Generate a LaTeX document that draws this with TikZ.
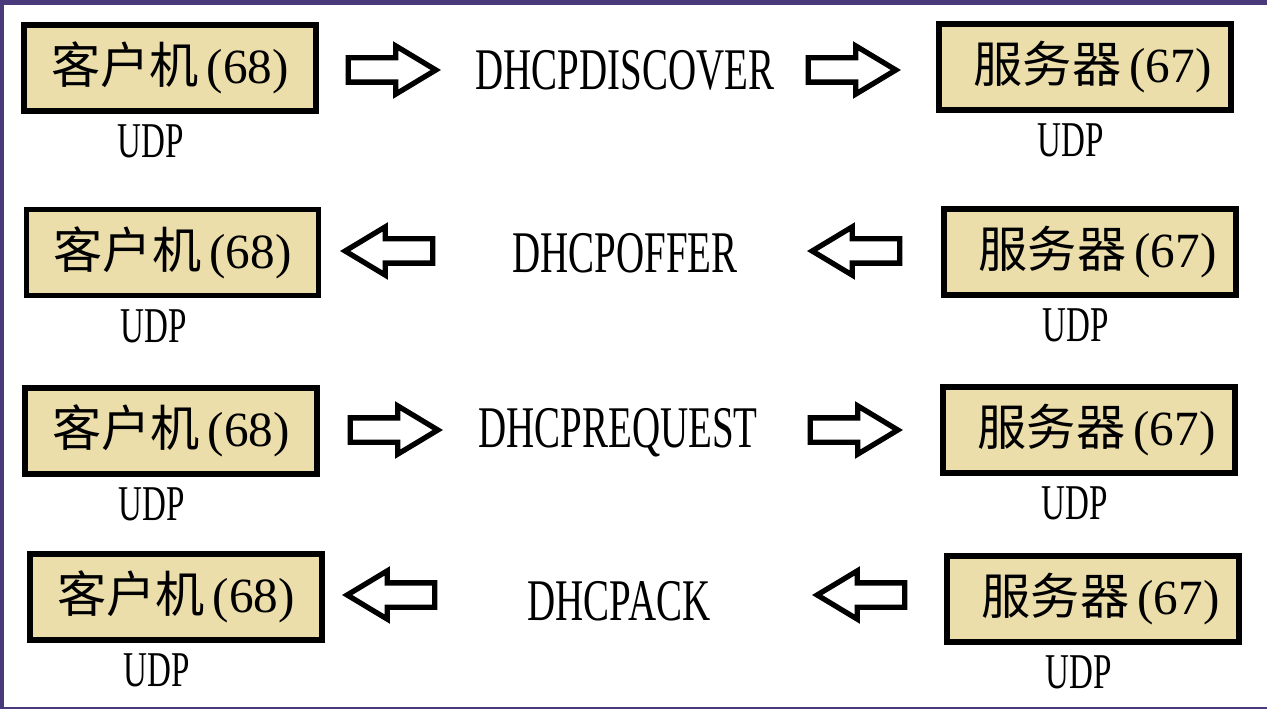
\documentclass[tikz,border=0pt]{standalone}
\usepackage{fontspec}
\setmainfont{Liberation Serif}
\newfontfamily\cjk{Noto Sans CJK SC}
\newfontfamily\narrowfont[FakeStretch=0.66]{Liberation Serif}
\usepackage{xcolor}
\usetikzlibrary{shapes.arrows,positioning}

\definecolor{boxfill}{HTML}{EBDEAA}
\definecolor{framecol}{HTML}{4A3A7C}
\newcommand{\hostfont}{\fontsize{28}{32}\selectfont}
\newcommand{\udpfont}{\narrowfont\fontsize{28.5}{32}\selectfont}
\newcommand{\msgfont}{\narrowfont\fontsize{33.6}{38}\selectfont}

\begin{document}
\begin{tikzpicture}[
   host/.style={draw,line width=3pt,fill=boxfill,minimum width=5.84cm,minimum height=1.72cm,inner sep=0pt,font=\hostfont},
   udp/.style={font=\udpfont,inner sep=0pt},
   msg/.style={font=\msgfont,inner sep=0pt,anchor=base},
   fwd/.style={single arrow,draw,line width=3pt,line join=miter,single arrow tip angle=62,
               single arrow head extend=0.24cm,minimum height=1.75cm,inner sep=0.19cm},
   back/.style={fwd,shape border rotate=180}]
  \useasboundingbox (0,0) rectangle (25.34,-14.18);
  \fill[white] (0,0) rectangle (25.34,-14.18);
  \fill[framecol] (0,0) rectangle (25.34,-0.1);
  \fill[framecol] (0,0) rectangle (0.08,-14.18);
  \fill[framecol] (0,-14.14) rectangle (25.34,-14.18);
  % clients and servers
  \node[host] (c1) at (3.40,-1.36) {{\cjk 客户机}\,(68)};
  \node[host] (s1) at (21.70,-1.34) {\hspace{0.3cm}{\cjk 服务器}\,(67)};
  \node[host] (c2) at (3.45,-5.05) {{\cjk 客户机}\,(68)};
  \node[host] (s2) at (21.80,-5.04) {\hspace{0.3cm}{\cjk 服务器}\,(67)};
  \node[host] (c3) at (3.42,-8.62) {{\cjk 客户机}\,(68)};
  \node[host] (s3) at (21.78,-8.60) {\hspace{0.3cm}{\cjk 服务器}\,(67)};
  \node[host] (c4) at (3.52,-11.94) {{\cjk 客户机}\,(68)};
  \node[host] (s4) at (21.86,-11.98) {\hspace{0.3cm}{\cjk 服务器}\,(67)};
  % UDP
  \node[udp,below=0.22cm of c1,xshift=-0.38cm] (uc1) {UDP};
  \node[udp,below=0.22cm of s1,xshift=-0.28cm] (us1) {UDP};
  \node[udp,below=0.22cm of c2,xshift=-0.38cm] (uc2) {UDP};
  \node[udp,below=0.22cm of s2,xshift=-0.28cm] (us2) {UDP};
  \node[udp,below=0.22cm of c3,xshift=-0.38cm] (uc3) {UDP};
  \node[udp,below=0.22cm of s3,xshift=-0.28cm] (us3) {UDP};
  \node[udp,below=0.22cm of c4,xshift=-0.38cm] (uc4) {UDP};
  \node[udp,below=0.22cm of s4,xshift=-0.28cm] (us4) {UDP};
  % messages
  \node[msg] (m1) at (12.50,-1.80) {DHCPDISCOVER};
  \node[msg] (m2) at (12.50,-5.44) {DHCPOFFER};
  \node[msg] (m3) at (12.36,-8.94) {DHCPREQUEST};
  \node[msg] (m4) at (12.38,-12.40) {DHCPACK};
  % hollow arrows
  \node[fwd] (a1l) at (7.64,-1.40) {};
  \node[fwd] (a1r) at (16.84,-1.40) {};
  \node[back] (a2l) at (7.98,-5.02) {};
  \node[back] (a2r) at (17.32,-5.02) {};
  \node[fwd] (a3l) at (7.68,-8.60) {};
  \node[fwd] (a3r) at (16.88,-8.60) {};
  \node[back] (a4l) at (8.02,-11.90) {};
  \node[back] (a4r) at (17.42,-11.90) {};
\end{tikzpicture}
\end{document}
